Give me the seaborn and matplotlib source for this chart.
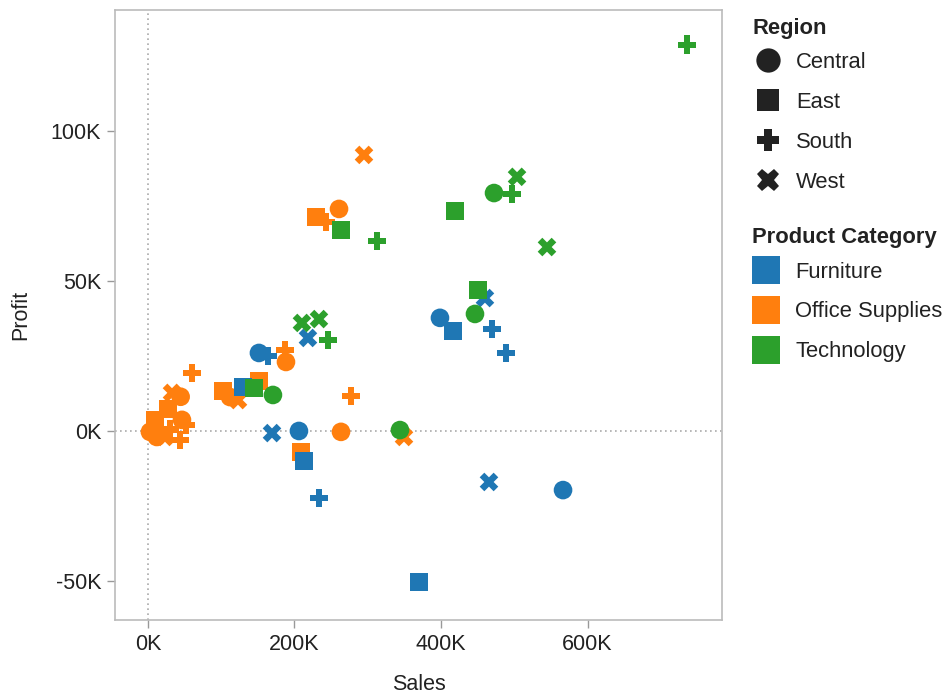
import matplotlib
matplotlib.use("Agg")
import matplotlib.pyplot as plt
import seaborn as sns
import pandas as pd
from matplotlib.lines import Line2D
from matplotlib.ticker import FuncFormatter

sns.set_theme(style="white")
plt.rcParams['font.family'] = ['Liberation Sans', 'DejaVu Sans']

# ---- data (Sales, Profit in thousands) ----
tech_region = ["South", "West", "Central", "South", "East", "East", "South", "West",
               "East", "Central", "West", "West", "South", "Central", "East", "Central"]
tech_sales = [735.8, 503.8, 472.4, 496.9, 419.1, 263.5, 312.6, 544.7,
              450.5, 446.4, 210.2, 233.4, 245.7, 170.6, 144.7, 344.0]
tech_profit = [128.7, 84.7, 79.3, 79.0, 73.3, 67.0, 63.3, 61.3,
               47.0, 39.0, 36.0, 37.3, 30.3, 12.0, 14.3, 0.3]

furn_region = ["West", "Central", "East", "South", "South", "Central", "South", "West",
               "East", "West", "Central", "East", "South", "West", "Central", "East"]
furn_sales = [460.0, 398.6, 416.4, 469.6, 488.7, 151.5, 163.8, 218.4,
              129.7, 169.3, 206.1, 213.0, 233.4, 465.5, 566.6, 370.0]
furn_profit = [44.3, 37.7, 33.3, 34.0, 26.0, 26.0, 25.0, 31.0,
               14.7, -0.7, 0.0, -10.0, -22.3, -17.0, -19.7, -50.3]

off_region = ["West", "Central", "East", "South", "South", "Central", "South", "South",
              "Central", "West", "East", "East", "East", "Central", "West",
              "Central", "West", "East", "East", "Central", "Central", "Central",
              "South", "South", "West", "South"]
off_sales = [294.9, 260.8, 229.4, 243.0, 60.0, 188.4, 187.0, 277.1,
             263.5, 349.5, 208.9, 102.4, 151.5, 112.0, 122.9,
             44.6, 32.8, 27.3, 9.6, 2.7, 12.0, 46.4,
             52.0, 43.7, 23.0, 30.0]
off_profit = [92.0, 74.0, 71.3, 69.7, 19.3, 23.0, 27.0, 11.7,
              -0.3, -2.0, -7.0, 13.3, 16.7, 11.3, 10.3,
              11.4, 12.7, 7.3, 3.7, -0.3, -2.0, 3.7,
              2.0, -3.0, -2.0, 0.5]

categories = ["Furniture", "Office Supplies", "Technology"]
regions = ["Central", "East", "South", "West"]
colors = {"Furniture": "#1f77b4", "Office Supplies": "#ff7f0e", "Technology": "#2ca02c"}
markers = {"Central": "o", "East": "s", "South": "P", "West": "X"}

df = pd.concat([
    pd.DataFrame({"Sales": off_sales, "Profit": off_profit, "Region": off_region,
                  "Product Category": "Office Supplies"}),
    pd.DataFrame({"Sales": furn_sales, "Profit": furn_profit, "Region": furn_region,
                  "Product Category": "Furniture"}),
    pd.DataFrame({"Sales": tech_sales, "Profit": tech_profit, "Region": tech_region,
                  "Product Category": "Technology"}),
], ignore_index=True)
df["Sales"] *= 1000
df["Profit"] *= 1000

W, H = 949, 696
fig = plt.figure(figsize=(W/100, H/100), dpi=100)
ax = fig.add_axes([115/W, 1-620/H, (722-115)/W, (620-10)/H])

ax.axvline(0, color="#aaaaaa", lw=1.2, ls=(0, (1, 2)), zorder=0)
ax.axhline(0, color="#aaaaaa", lw=1.2, ls=(0, (1, 2)), zorder=0)

sns.scatterplot(data=df, x="Sales", y="Profit", hue="Product Category", style="Region",
                palette=colors, markers=markers, hue_order=categories, style_order=regions,
                s=180, linewidth=0, alpha=1, legend=False, ax=ax)

ax.set_xlim(-45000, 783600)
ax.set_ylim(-63000, 140300)
ax.set_xticks([0, 200000, 400000, 600000])
ax.set_yticks([-50000, 0, 50000, 100000])
fmt = FuncFormatter(lambda v, p: f"{v/1000:.0f}K")
ax.xaxis.set_major_formatter(fmt)
ax.yaxis.set_major_formatter(fmt)
ax.tick_params(axis="both", which="major", direction="out", length=6, width=1,
               color="#999999", labelsize=15.5, labelcolor="#222222", pad=4,
               bottom=True, left=True)
for sp in ax.spines.values():
    sp.set_color("#bbbbbb")
    sp.set_linewidth(1.2)
ax.set_xlabel("Sales", fontsize=15.5, color="#222222", labelpad=14)
ax.set_ylabel("Profit", fontsize=15.5, color="#222222", labelpad=14)

# ---- legends (drawn in figure pixel coordinates) ----
def fx(px):
    return px / W

def fy(py):
    return 1 - py / H

txt = dict(fontsize=15.8, color="#222222", va="baseline", ha="left")
fig.text(fx(752), fy(34), "Region", fontweight="bold", **txt)
shape_sizes = {"Central": 17.5, "East": 15.5, "South": 16, "West": 16}
for i, r in enumerate(regions):
    cy = 60 + 40 * i
    fig.add_artist(Line2D([fx(768)], [fy(cy)], ls="", marker=markers[r], color="#222222",
                          markersize=shape_sizes[r], markeredgewidth=0,
                          transform=fig.transFigure))
    fig.text(fx(796), fy(cy + 7.5), r, **txt)

fig.text(fx(752), fy(243), "Product Category", fontweight="bold", **txt)
for i, c in enumerate(categories):
    cy = 270 + 40 * i
    fig.add_artist(Line2D([fx(766)], [fy(cy)], ls="", marker="s", color=colors[c],
                          markersize=20, markeredgewidth=0, transform=fig.transFigure))
    fig.text(fx(795), fy(cy + 7.5), c, **txt)

fig.savefig("out.png", dpi=100)
